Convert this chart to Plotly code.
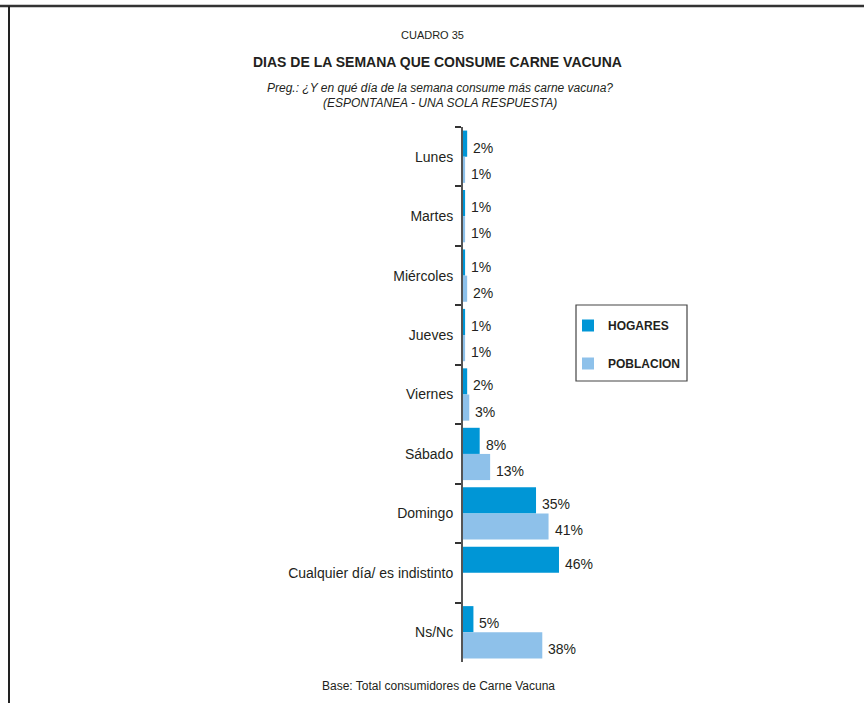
import plotly.graph_objects as go

categories = ["Lunes", "Martes", "Miércoles", "Jueves", "Viernes", "Sábado",
              "Domingo", "Cualquier día/ es indistinto", "Ns/Nc"]
hogares = [2, 1, 1, 1, 2, 8, 35, 46, 5]
poblacion = [1, 1, 2, 1, 3, 13, 41, None, 38]

C_HOG = "#0096d6"
C_POB = "#8ec1ea"
TXT = "#231f20"
FONT = "Liberation Sans, Arial, sans-serif"

W, H = 864, 703
L, T, B = 463, 127, 41
PW = 313
R = W - L - PW
PH = H - T - B
XMAX = 150


def px_x(px):
    return (px - L) / PW


def px_y(py):
    return (H - B - py) / PH


fig = go.Figure()
fig.add_trace(go.Bar(y=categories, x=hogares, orientation="h", name="<b>HOGARES</b>",
                     marker=dict(color=C_HOG, line=dict(width=0)), legendgroup="a"))
fig.add_trace(go.Bar(y=categories, x=poblacion, orientation="h", name="<b>POBLACION</b>",
                     marker=dict(color=C_POB, line=dict(width=0)), legendgroup="b"))

annotations = []
off = 0.22
for i, (h, p) in enumerate(zip(hogares, poblacion)):
    for v, d in ((h, -off), (p, off)):
        if v is None:
            continue
        annotations.append(dict(x=v, y=i + d, xref="x", yref="y", text=f"{v}%",
                                showarrow=False, xanchor="left", yanchor="middle",
                                xshift=4, yshift=-4,
                                font=dict(size=14, color=TXT, family=FONT)))


def head(text, px, py, size):
    return dict(x=px_x(px), y=px_y(py), xref="paper", yref="paper", text=text,
                showarrow=False, xanchor="center", yanchor="middle",
                font=dict(size=size, color=TXT, family=FONT))


annotations += [
    head("CUADRO 35", 432, 35, 11),
    head("<b>DIAS DE LA SEMANA QUE CONSUME CARNE VACUNA</b>", 437, 62, 14),
    head("<i>Preg.: ¿Y en qué día de la semana consume más carne vacuna?</i>", 440, 88, 12),
    head("<i>(ESPONTANEA - UNA SOLA RESPUESTA)</i>", 440, 103, 12),
    head("Base: Total consumidores de Carne Vacuna", 438, 686, 12),
]

shapes = [
    dict(type="line", xref="paper", yref="paper", x0=px_x(0), x1=px_x(864),
         y0=px_y(6), y1=px_y(6), line=dict(color="#333333", width=2.5)),
    dict(type="line", xref="paper", yref="paper", x0=px_x(9), x1=px_x(9),
         y0=px_y(6), y1=px_y(703), line=dict(color="#222222", width=2)),
    dict(type="rect", xref="paper", yref="paper", x0=px_x(576), x1=px_x(687),
         y0=px_y(305), y1=px_y(381), line=dict(color="#444444", width=1.2),
         fillcolor="rgba(0,0,0,0)", layer="below"),
]

fig.update_layout(
    width=W, height=H,
    margin=dict(l=L, r=R, t=T, b=B, pad=0),
    paper_bgcolor="white", plot_bgcolor="white",
    barmode="group", bargap=0.12, bargroupgap=0,
    font=dict(family=FONT, color=TXT),
    showlegend=True,
    legend=dict(x=px_x(568), y=px_y(311), xanchor="left", yanchor="top",
                xref="paper", yref="paper",
                borderwidth=0, bgcolor="rgba(0,0,0,0)",
                traceorder="grouped", tracegroupgap=19,
                font=dict(size=12, color=TXT, family=FONT), itemclick=False),
    xaxis=dict(range=[0, XMAX], visible=False, fixedrange=True),
    yaxis=dict(categoryorder="array", categoryarray=categories, autorange="reversed",
               showline=True, linecolor="#555555", linewidth=2,
               ticks="outside", tickson="boundaries", ticklen=6, tickcolor="#333333",
               tickwidth=1.5, showgrid=False, zeroline=False, ticklabelstandoff=5,
               tickfont=dict(size=14, color=TXT, family=FONT)),
    annotations=annotations,
    shapes=shapes,
)

fig.write_html("out.html")
